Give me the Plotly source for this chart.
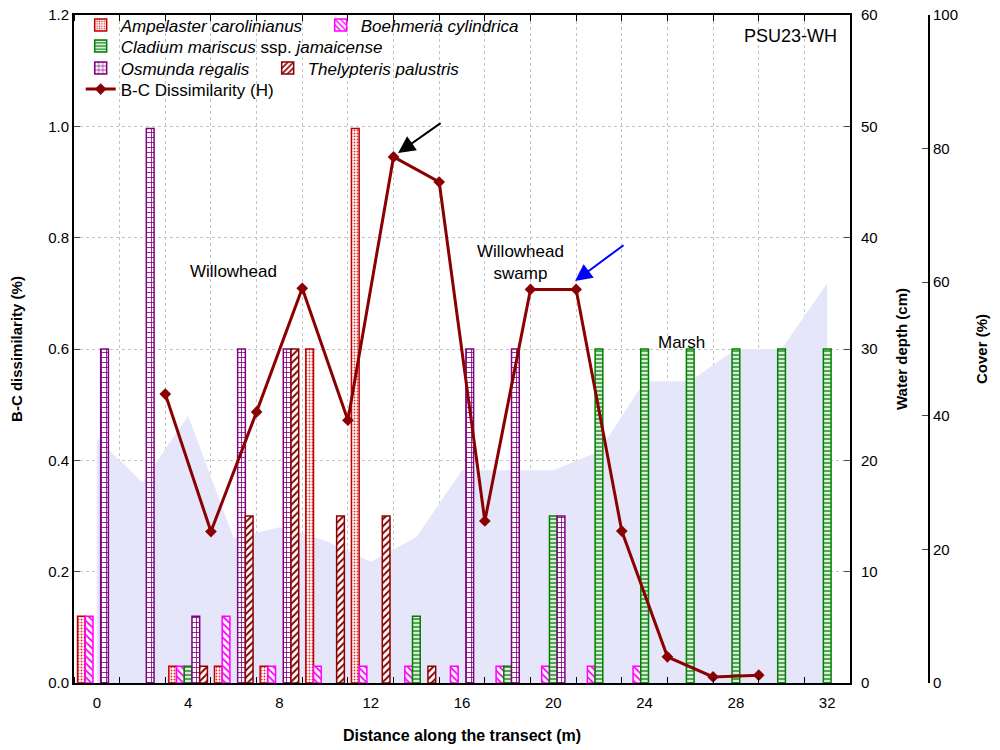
import plotly.graph_objects as go

# sample plots along the transect (m)
distance = [0, 2, 4, 6, 8, 10, 12, 14, 16, 18, 20, 22, 24, 26, 28, 30, 32]
x_tick_labels = [0, 4, 8, 12, 16, 20, 24, 28, 32]

# species cover (%) per plot
ampelaster = [10, None, 2.5, 2.5, 2.5, 50, 83, None, None, None, None, None, None, None, None, None, None]
boehmeria = [10, None, 2.5, 10, 2.5, 2.5, 2.5, 2.5, 2.5, 2.5, 2.5, 2.5, 2.5, None, None, None, None]
cladium = [None, None, 2.5, None, None, None, None, 10, None, 2.5, 25, 50, 50, 50, 50, 50, 50]
osmunda = [50, 83, 10, 50, 50, None, None, None, 50, 50, 25, None, None, None, None, None, None]
thelypteris = [None, None, 2.5, 25, 50, 25, 25, 2.5, None, None, None, None, None, None, None, None, None]

# water depth (cm)
water_depth = [22, 18, 24, 13, 14, 12.8, 10.9, 13.1, 19.1, 19.1, 19.1, 20.8, 27.1, 27.1, 30, 30, 35.9]

# B-C dissimilarity between adjacent plots
bc_x = [3, 5, 7, 9, 11, 13, 15, 17, 19, 21, 23, 25, 27, 29]
bc_h = [0.519, 0.272, 0.487, 0.709, 0.472, 0.945, 0.900, 0.291, 0.707, 0.707, 0.273, 0.047, 0.011, 0.014]

FONT = "Arial, Liberation Sans, sans-serif"
GRID = '#c4c4c4'

fig = go.Figure()

fig.add_trace(go.Scatter(
    x=distance, y=water_depth, yaxis='y', mode='lines',
    fill='tozeroy', fillcolor='#e6e6fa',
    line=dict(width=0, color='#e6e6fa'),
    showlegend=False, hoverinfo='skip'
))

# name, values, edge, pattern shape, fg, bg, pattern size, solidity, legend, legend entry width
species = [
    ('<i>Ampelaster carolinianus</i>', ampelaster, '#c00000', '.', '#e03030', 'white', 3, 0.3, 'legend', 195),
    ('<i>Boehmeria cylindrica</i>', boehmeria, '#ff00ff', '\\', '#ff00ff', 'white', 5, 0.35, 'legend', None),
    ('<i>Cladium mariscus</i> ssp. <i>jamaicense</i>', cladium, '#008000', '-', 'white', '#52a852', 4, 0.4, 'legend2', None),
    ('<i>Osmunda regalis</i>', osmunda, '#800080', '+', '#800080', 'white', 5, 0.3, 'legend3', 142),
    ('<i>Thelypteris palustris</i>', thelypteris, '#8b0000', '/', '#8b0000', 'white', 5, 0.4, 'legend3', None),
]

for name, vals, edge, shape, fg, bg, psize, solid, leg, lw in species:
    fig.add_trace(go.Bar(
        x=distance, y=vals, name=name, yaxis='y2', legend=leg, legendwidth=lw,
        marker=dict(
            color=bg,
            line=dict(color=edge, width=1.5),
            pattern=dict(shape=shape, fgcolor=fg, bgcolor=bg, size=psize, solidity=solid, fillmode='replace'),
        ),
    ))

fig.add_trace(go.Scatter(
    x=bc_x, y=bc_h, yaxis='y3', name='B-C Dissimilarity (H)', legend='legend4',
    mode='lines+markers',
    line=dict(color='#8b0000', width=3),
    marker=dict(symbol='diamond', size=9, color='#8b0000'),
))

legend_style = dict(orientation='h', x=0.0073, xanchor='left', yanchor='top',
                    bgcolor='rgba(0,0,0,0)', font=dict(size=17))

fig.update_layout(
    width=1000, height=750,
    # autoexpand off so the legends don't push the plot area down
    margin=dict(l=74, r=10, t=15, b=67, autoexpand=False),
    paper_bgcolor='white', plot_bgcolor='white',
    font=dict(family=FONT, size=15, color='black'),
    barmode='group', bargap=0.155, bargroupgap=0,
    xaxis=dict(
        domain=[0, 0.8472], range=[-1, 33], automargin=False,
        tickmode='array', tickvals=x_tick_labels, ticks='', ticklabelstandoff=5,
        showgrid=False, zeroline=False,
        showline=True, linecolor='black', linewidth=2, mirror='allticks',
        minor=dict(tick0=1, dtick=2, ticks='inside', ticklen=6, tickcolor='black',
                   showgrid=True, gridcolor=GRID, griddash='dot', gridwidth=1),
        title=dict(text='<b>Distance along the transect (m)</b>', standoff=20, font=dict(size=16)),
        tickfont=dict(size=15),
    ),
    yaxis=dict(
        range=[0, 60], dtick=10, side='right', anchor='x', automargin=False,
        ticks='inside', ticklen=6, ticklabelstandoff=6, showgrid=False, zeroline=False,
        showline=True, linecolor='black', linewidth=2,
        title=dict(text='<b>Water depth (cm)</b>', font=dict(size=15), standoff=20),
    ),
    yaxis2=dict(
        range=[0, 100], dtick=20, side='right', overlaying='y', anchor='free', position=0.9334,
        automargin=False,
        ticks='inside', ticklen=6, showgrid=False, zeroline=False,
        showline=True, linecolor='black', linewidth=2,
        title=dict(text='<b>Cover (%)</b>', font=dict(size=15), standoff=18),
    ),
    yaxis3=dict(
        range=[0, 1.2], dtick=0.2, tickformat='.1f', side='left', overlaying='y', anchor='x',
        automargin=False,
        ticks='inside', ticklen=6, zeroline=False,
        showgrid=True, gridcolor=GRID, griddash='dot',
        showline=True, linecolor='black', linewidth=2,
        title=dict(text='<b>B-C dissimilarity (%)</b>', font=dict(size=15), standoff=22),
    ),
    legend=dict(legend_style, y=1.0112),
    legend2=dict(legend_style, y=0.9798),
    legend3=dict(legend_style, y=0.9469),
    legend4=dict(legend_style, y=0.9154),
    annotations=[
        dict(x=6, y=0.74, xref='x', yref='y3', text='Willowhead', showarrow=False, font=dict(size=17)),
        dict(x=18.55, y=0.755, xref='x', yref='y3', text='Willowhead<br>swamp', showarrow=False, font=dict(size=17)),
        dict(x=25.6, y=0.611, xref='x', yref='y3', text='Marsh', showarrow=False, font=dict(size=17)),
        dict(x=30.4, y=1.163, xref='x', yref='y3', text='PSU23-WH', showarrow=False, font=dict(size=18)),
        dict(x=13.2, y=0.952, xref='x', yref='y3', ax=44, ay=-31, text='', showarrow=True,
             arrowhead=2, arrowsize=1.7, arrowwidth=2, arrowcolor='black'),
        dict(x=20.95, y=0.722, xref='x', yref='y3', ax=50, ay=-37, text='', showarrow=True,
             arrowhead=2, arrowsize=1.7, arrowwidth=2, arrowcolor='blue'),
    ],
)

# drop the default page margin so the figure sits at the window's corner
fig.write_html("out.html", config={'displayModeBar': False},
               post_script="document.body.style.margin='0';")
